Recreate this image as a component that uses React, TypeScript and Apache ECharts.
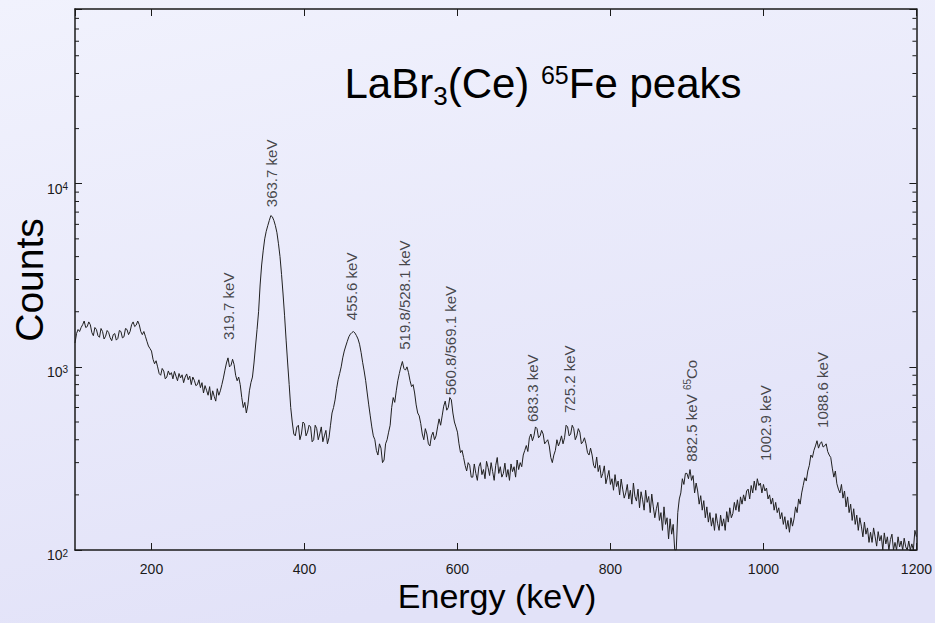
import React, { useEffect, useRef } from "react";
import * as echarts from "echarts";

// Spectrum: channel calibration (keV) and counts
const CHANNEL_START_KEV = 100;
const CHANNEL_WIDTH_KEV = 2;
const counts: number[] = [
  1350, 1520, 1600, 1560, 1640, 1700, 1780, 1640, 1660, 1760, 1700, 1540, 1480, 1640, 1600, 1480, 1450, 1620, 1560, 1420,
  1470, 1580, 1540, 1440, 1390, 1500, 1520, 1400, 1430, 1580, 1560, 1440, 1460, 1620, 1600, 1500, 1560, 1700, 1760, 1660,
  1690, 1780, 1700, 1560, 1500, 1560, 1470, 1380, 1300, 1260, 1220, 1100, 1040, 1080, 1000, 920, 900, 980, 950, 860,
  880, 950, 905, 930, 860, 945, 890, 840, 920, 870, 905, 820, 880, 915, 850, 890, 800, 880, 845, 790,
  800, 850, 770, 820, 720, 790, 745, 700, 780, 660, 740, 690, 650, 760, 700, 740, 800, 870, 960, 1050,
  1120, 1000, 1020, 1100, 1030, 900, 840, 880, 800, 680, 600, 640, 560, 620, 740, 820, 880, 1050, 1300, 1600,
  2000, 2800, 3600, 4300, 5000, 5500, 5900, 6300, 6700, 6600, 6300, 5900, 5400, 4700, 4000, 3200, 2500, 1900, 1400, 1050,
  800, 600, 500, 430, 420, 470, 480, 400, 430, 500, 490, 420, 440, 480, 470, 390, 400, 480, 460, 400,
  430, 470, 390, 420, 450, 380, 410, 480, 560, 600, 660, 760, 850, 920, 1000, 1120, 1220, 1300, 1380, 1460,
  1510, 1540, 1560, 1530, 1480, 1420, 1330, 1200, 1060, 950, 840, 720, 620, 540, 470, 420, 400, 350, 330, 380,
  360, 300, 310, 380, 400, 440, 480, 600, 680, 640, 740, 840, 920, 1000, 1070, 980, 960, 1000, 930, 840,
  780, 800, 720, 620, 560, 540, 490, 430, 400, 460, 430, 380, 370, 420, 440, 400, 420, 470, 520, 480,
  540, 610, 650, 580, 600, 680, 660, 560, 500, 470, 440, 380, 340, 350, 320, 290, 270, 300, 290, 250,
  250, 295, 262, 240, 285, 300, 258, 275, 245, 305, 282, 255, 300, 268, 240, 290, 320, 262, 285, 250,
  262, 298, 250, 275, 240, 295, 268, 285, 250, 310, 275, 300, 285, 330, 350, 372, 345, 410, 430, 395,
  420, 470, 460, 410, 420, 450, 430, 380, 390, 400, 370, 320, 300, 330, 350, 400, 370, 390, 420, 380,
  410, 480, 470, 420, 430, 480, 460, 400, 420, 460, 440, 380, 390, 410, 380, 340, 330, 360, 330, 290,
  280, 322, 268, 290, 248, 262, 288, 230, 250, 272, 228, 245, 212, 258, 222, 238, 200, 244, 215, 192,
  205, 228, 190, 212, 178, 232, 196, 185, 215, 170, 208, 188, 165, 212, 182, 196, 160, 202, 172, 150,
  168, 182, 145, 160, 128, 172, 138, 150, 115, 148, 122, 138, 100, 100, 160, 190, 205, 245, 228, 262,
  262, 245, 275, 240, 255, 205, 232, 210, 178, 198, 165, 186, 150, 172, 142, 160, 135, 150, 128, 158,
  140, 128, 155, 135, 148, 128, 162, 142, 170, 150, 158, 182, 165, 188, 162, 195, 178, 200, 185, 210,
  215, 190, 225, 205, 238, 212, 245, 225, 232, 205, 228, 210, 218, 190, 200, 178, 192, 165, 182, 160,
  170, 148, 160, 138, 152, 130, 145, 125, 150, 135, 148, 172, 160, 190, 178, 205, 225, 248, 238, 270,
  290, 330, 320, 350, 370, 395, 360, 380, 390, 365, 370, 380, 345, 330, 320, 280, 250, 270, 230, 215,
  205, 228, 192, 210, 172, 195, 160, 178, 145, 168, 138, 155, 128, 150, 135, 118, 142, 122, 132, 110,
  125, 110, 132, 118, 105, 126, 112, 120, 100, 124, 108, 118, 100, 114, 122, 100, 110, 100, 118, 104,
  112, 100, 116, 104, 100, 112, 100, 108, 100, 128, 118,
];

// Peak annotations: text, energy position on the axis, count at the label's start
const peakLabels = [
  "319.7 keV",
  "363.7 keV",
  "455.6 keV",
  "519.8/528.1 keV",
  "560.8/569.1 keV",
  "683.3 keV",
  "725.2 keV",
  "882.5 keV {sup|65}Co",
  "1002.9 keV",
  "1088.6 keV",
];
const peakLabelEnergies = [301, 357, 461, 531, 591, 698, 747, 906, 1003, 1077];
const peakLabelCounts = [1400, 7450, 1800, 1240, 700, 500, 560, 303, 306, 464];

// Axes
const X_MIN = 100;
const X_MAX = 1200;
const Y_MIN = 100;
const Y_MAX = 90000;
const yMinorMultipliers = [2, 3, 4, 5, 6, 7, 8, 9];
const yDecades = [100, 1000, 10000];

const FONT = "'Liberation Sans', Arial, Helvetica, sans-serif";
const INK = "#1a1a1a";

export default function App() {
  const ref = useRef<HTMLDivElement>(null);

  useEffect(() => {
    if (!ref.current) return;
    const chart = echarts.init(ref.current, null, { renderer: "svg" });

    const spectrum = counts.map((c, i) => [CHANNEL_START_KEV + i * CHANNEL_WIDTH_KEV, c]);
    const labelPoints = peakLabelEnergies.map((e, i) => ({
      value: [e, peakLabelCounts[i]],
      name: peakLabels[i],
    }));

    const yLabelFormatter = (v: number) => {
      const e = Math.log10(v);
      const r = Math.round(e);
      return Math.abs(e - r) < 1e-6 ? `{b|10}{s|${r}}` : "";
    };

    const axisLine = { show: true, lineStyle: { color: INK, width: 1.5 } };

    chart.setOption({
      animation: false,
      backgroundColor: {
        type: "linear",
        x: 0,
        y: 0,
        x2: 0.35,
        y2: 1,
        colorStops: [
          { offset: 0, color: "#f1f2fd" },
          { offset: 1, color: "#e2e2f8" },
        ],
      },
      grid: { left: 75, right: 17, top: 9, bottom: 73, containLabel: false },
      xAxis: [
        {
          type: "value",
          min: X_MIN,
          max: X_MAX,
          splitNumber: 5,
          position: "bottom",
          axisLine,
          splitLine: { show: false },
          axisTick: { show: true, inside: true, length: 7, lineStyle: { color: INK, width: 1 } },
          axisLabel: {
            show: true,
            showMinLabel: false,
            margin: 12,
            fontSize: 14,
            fontFamily: FONT,
            color: INK,
            formatter: (v: number) => String(v),
          },
        },
        {
          type: "value",
          min: X_MIN,
          max: X_MAX,
          splitNumber: 5,
          position: "top",
          axisLine,
          splitLine: { show: false },
          axisTick: { show: true, inside: true, length: 7, lineStyle: { color: INK, width: 1 } },
          axisLabel: { show: false },
        },
      ],
      yAxis: [
        {
          type: "log",
          logBase: 10,
          min: Y_MIN,
          max: Y_MAX,
          position: "left",
          axisLine,
          splitLine: { show: false },
          axisTick: { show: true, inside: true, length: 7, lineStyle: { color: INK, width: 1 } },
          axisLabel: {
            show: true,
            margin: 7,
            formatter: yLabelFormatter,
            padding: [10, 0, 0, 0],
            color: INK,
            fontFamily: FONT,
            rich: {
              b: { fontSize: 14, lineHeight: 14, verticalAlign: "bottom", fontFamily: FONT, color: INK },
              s: {
                fontSize: 10,
                lineHeight: 10,
                verticalAlign: "top",
                padding: [0, 0, 7, 0],
                fontFamily: FONT,
                color: INK,
              },
            },
          },
        },
        {
          type: "log",
          logBase: 10,
          min: Y_MIN,
          max: Y_MAX,
          position: "right",
          axisLine,
          splitLine: { show: false },
          axisTick: { show: true, inside: true, length: 7, lineStyle: { color: INK, width: 1 } },
          axisLabel: { show: false },
        },
      ],
      series: [
        {
          type: "line",
          data: spectrum,
          xAxisIndex: 0,
          yAxisIndex: 0,
          symbol: "none",
          lineStyle: { color: "#202020", width: 1 },
          silent: true,
          z: 3,
        },
        {
          type: "scatter",
          data: labelPoints,
          xAxisIndex: 0,
          yAxisIndex: 0,
          symbolSize: 0,
          silent: true,
          z: 4,
          label: {
            show: true,
            position: "inside",
            rotate: 90,
            align: "left",
            verticalAlign: "middle",
            formatter: (p: any) => p.name,
            fontSize: 15,
            lineHeight: 18,
            fontFamily: FONT,
            color: INK,
            rich: {
              sup: { fontSize: 10, lineHeight: 10, verticalAlign: "top", fontFamily: FONT, color: INK },
            },
          },
        },
      ],
    });

    // minor log ticks on left and right axes, located through the axis scale
    const xLeft = chart.convertToPixel({ xAxisIndex: 0 }, X_MIN) as number;
    const xRight = chart.convertToPixel({ xAxisIndex: 0 }, X_MAX) as number;
    const minorTicks: any[] = [];
    yDecades.forEach((d) => {
      yMinorMultipliers.forEach((m) => {
        const v = d * m;
        if (v >= Y_MAX) return;
        const py = chart.convertToPixel({ yAxisIndex: 0 }, v) as number;
        minorTicks.push({
          type: "line",
          silent: true,
          shape: { x1: xLeft, y1: py, x2: xLeft + 4, y2: py },
          style: { stroke: INK, lineWidth: 1 },
        });
        minorTicks.push({
          type: "line",
          silent: true,
          shape: { x1: xRight - 4, y1: py, x2: xRight, y2: py },
          style: { stroke: INK, lineWidth: 1 },
        });
      });
    });

    chart.setOption({
      graphic: [
        {
          type: "text",
          silent: true,
          x: 543,
          y: 83,
          style: {
            text: "{m|LaBr}{sub|3}{m|(Ce) }{sup|65}{m|Fe peaks}",
            align: "center",
            verticalAlign: "middle",
            fill: "#000",
            rich: {
              m: { fontSize: 42, lineHeight: 52, verticalAlign: "middle", fontFamily: FONT, fill: "#000", color: "#000" },
              sub: { fontSize: 26, lineHeight: 26, verticalAlign: "bottom", fontFamily: FONT, fill: "#000", color: "#000" },
              sup: {
                fontSize: 25,
                lineHeight: 25,
                verticalAlign: "top",
                padding: [5, 0, 0, 0],
                fontFamily: FONT,
                fill: "#000",
                color: "#000",
              },
            },
          },
        },
        {
          type: "text",
          silent: true,
          x: 29,
          y: 280,
          rotation: Math.PI / 2,
          style: {
            text: "Counts",
            align: "center",
            verticalAlign: "middle",
            fontSize: 39,
            fontFamily: FONT,
            fill: "#000",
          },
        },
        {
          type: "text",
          silent: true,
          x: 497,
          y: 596,
          style: {
            text: "Energy (keV)",
            align: "center",
            verticalAlign: "middle",
            fontSize: 34,
            fontFamily: FONT,
            fill: "#000",
          },
        },
        ...minorTicks,
      ],
    });

    return () => {
      chart.dispose();
    };
  }, []);

  return (
    <div
      ref={ref}
      style={{ position: "fixed", left: 0, top: 0, width: 935, height: 623 }}
    />
  );
}
